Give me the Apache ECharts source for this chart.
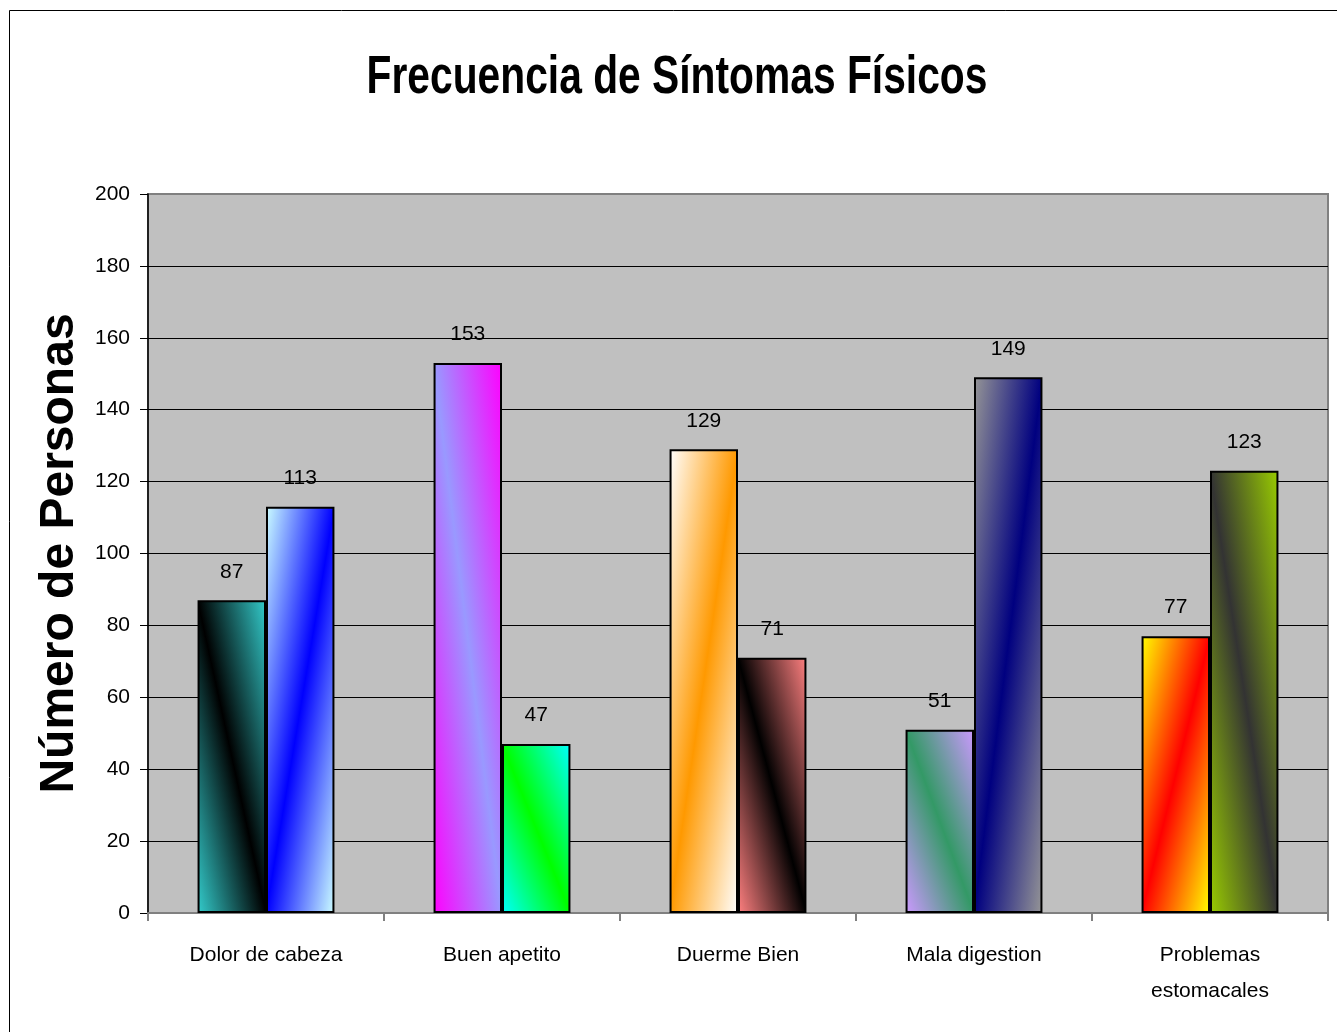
<!DOCTYPE html>
<html>
<head>
<meta charset="utf-8">
<script src="https://cdn.jsdelivr.net/npm/echarts@6/dist/echarts.min.js"></script>
<style>
html,body{margin:0;padding:0;background:#fff;}
#chart{width:1337px;height:1032px;}
</style>
</head>
<body>
<div id="chart"></div>
<script>
// ---- data ----
const titleText = 'Frecuencia de Síntomas Físicos';
const yAxisTitle = 'Número de Personas';
const categories = ['Dolor de cabeza', 'Buen apetito', 'Duerme Bien', 'Mala digestion', 'Problemas\nestomacales'];
const serie1 = [87, 153, 129, 51, 77];
const serie2 = [113, 47, 71, 149, 123];
const yMin = 0, yMax = 200, yStep = 20;

// ---- styles (gradient fills: outer colour, stripe colour, stripe direction) ----
const fills1 = [['#33CCCC', '#000000', 'down'], ['#FF00FF', '#9999FF', 'down'], ['#FFFFFF', '#FF9900', 'up'], ['#CC99FF', '#339966', 'down'], ['#FFFF00', '#FF0000', 'up']];
const fills2 = [['#CCFFFF', '#0000FF', 'up'], ['#00FFFF', '#00FF00', 'down'], ['#FF8080', '#000000', 'down'], ['#969696', '#000080', 'up'], ['#99CC00', '#333333', 'down']];

const sans = "'Liberation Sans', Arial, sans-serif";
const catGap = 0.42;

const chart = echarts.init(document.getElementById('chart'), null, {renderer: 'canvas'});

function makeSeries(name, values, fills, grad) {
  return {
    name: name,
    type: 'bar',
    barGap: '0%',
    barCategoryGap: (catGap * 100) + '%',
    data: values.map((v, i) => ({
      value: v,
      itemStyle: {color: grad ? grad[i] : fills[i][0]}
    })),
    itemStyle: {borderColor: '#000', borderWidth: 2},
    label: {
      show: true, position: 'top', distance: 18,
      color: '#000', fontFamily: sans, fontSize: 21
    }
  };
}

function baseOption(g1, g2) {
  return {
    animation: false,
    backgroundColor: '#fff',
    graphic: [{
      type: 'rect', z: -10, silent: true,
      shape: {x: 9.5, y: 10.5, width: 1400, height: 1100},
      style: {fill: 'none', stroke: '#000', lineWidth: 1}
    }, {
      type: 'text', x: 677, y: 78, scaleX: 0.755, silent: true,
      style: {
        text: titleText, fill: '#000',
        font: "bold 54px 'Liberation Sans', Arial, sans-serif",
        textAlign: 'center', textVerticalAlign: 'middle', align: 'center', verticalAlign: 'middle'
      }
    }],
    grid: {
      left: 148, top: 194, right: 9, bottom: 119,
      show: true, backgroundColor: '#C0C0C0', borderColor: '#808080', borderWidth: 2
    },
    xAxis: {
      type: 'category',
      data: categories,
      axisLine: {lineStyle: {color: '#808080', width: 2}},
      axisTick: {show: true, length: 8, lineStyle: {color: '#808080', width: 2}},
      axisLabel: {color: '#000', fontFamily: sans, fontSize: 21, lineHeight: 36, margin: 24, interval: 0}
    },
    yAxis: {
      type: 'value',
      min: yMin, max: yMax, interval: yStep,
      name: yAxisTitle,
      nameLocation: 'middle',
      nameGap: 39,
      nameTextStyle: {fontFamily: sans, fontWeight: 'bold', fontSize: 48, color: '#000'},
      axisLine: {show: true, lineStyle: {color: '#000', width: 1.5}},
      axisTick: {show: true, length: 8, lineStyle: {color: '#000', width: 1}},
      axisLabel: {color: '#000', fontFamily: sans, fontSize: 21, margin: 18},
      splitLine: {show: true, showMinLine: false, showMaxLine: false, lineStyle: {color: '#000', width: 1}}
    },
    series: [makeSeries('Serie 1', serie1, fills1, g1), makeSeries('Serie 2', serie2, fills2, g2)]
  };
}

chart.setOption(baseOption(null, null));

// Build diagonal gradients from the bars' real size (taken from the library's scales)
function gradientsFor(values, fills) {
  const y0 = chart.convertToPixel({yAxisIndex: 0}, 0);
  const catW = chart.convertToPixel({xAxisIndex: 0}, 1) - chart.convertToPixel({xAxisIndex: 0}, 0);
  const w = catW * (1 - catGap) / 2;
  return values.map((v, i) => {
    const h = Math.abs(y0 - chart.convertToPixel({yAxisIndex: 0}, v));
    const L2 = w * w + h * h;
    const a = h * h / L2, b = w * w / L2;
    const [outer, mid, dir] = fills[i];
    const stops = [{offset: 0, color: outer}, {offset: 0.5, color: mid}, {offset: 1, color: outer}];
    if (dir === 'down') {
      return new echarts.graphic.LinearGradient(0, 1, 2 * a, 1 - 2 * b, stops);
    }
    return new echarts.graphic.LinearGradient(0, 0, 2 * a, 2 * b, stops);
  });
}

chart.setOption(baseOption(gradientsFor(serie1, fills1), gradientsFor(serie2, fills2)));
</script>
</body>
</html>
